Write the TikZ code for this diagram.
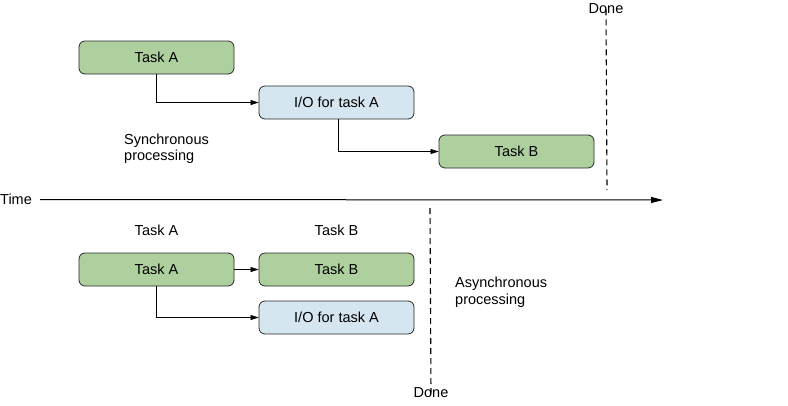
\documentclass[tikz,border=0pt]{standalone}
\usepackage{fontspec}
\setmainfont{Liberation Sans}
\usetikzlibrary{arrows.meta}
\definecolor{taskgreen}{RGB}{174,208,158}
\definecolor{ioblue}{RGB}{213,230,240}
\definecolor{edgegray}{RGB}{40,40,40}
\begin{document}
\begin{tikzpicture}[x=1pt,y=-1pt,
  font=\fontsize{14.5}{16.5}\selectfont,
  box/.style={draw=edgegray, line width=0.8pt, rounded corners=6pt, minimum width=155pt, minimum height=33pt, inner sep=0pt},
  taskbox/.style={box, fill=taskgreen},
  iobox/.style={box, fill=ioblue},
  conn/.style={draw=black, line width=0.7pt, -{Triangle[length=8pt,width=5pt]}},
  doneline/.style={draw=black, line width=1.1pt, dash pattern=on 6pt off 4pt},
  lbl/.style={inner sep=0pt}
]
\useasboundingbox (0,0) rectangle (788,405);
% synchronous
\node[taskbox] (ta1) at (156.5,57.5) {Task A};
\node[iobox] (io1) at (336.5,102.5) {I/O for task A};
\node[taskbox] (tb1) at (516.5,151.5) {Task B};
\node[lbl, align=left, anchor=west] (sync) at (124,148.5) {Synchronous\\processing};
\draw[conn] (ta1.south) |- (io1.west);
\draw[conn] ([xshift=1.5pt]io1.south) |- (tb1.west);
% time axis
\node[lbl, anchor=west] (time) at (0,199.5) {Time};
\coordinate (tend) at (663,200);
\draw[line width=1pt, -{Triangle[length=12pt,width=6pt]}] ([xshift=8pt]time.east) -- (tend);
% done lines
\node[lbl] (done1) at (606,9) {Done};
\coordinate (d1b) at (607,190);
\draw[doneline] ([yshift=5pt]done1.south) -- (d1b);
\node[lbl] (done2) at (431,393) {Done};
\coordinate (d2t) at (430,208);
\draw[doneline] (d2t) -- ([yshift=-5pt]done2.north);
% asynchronous
\node[lbl] (la) at (156.5,230.5) {Task A};
\node[lbl] (lb) at (336.5,230.5) {Task B};
\node[taskbox] (ta2) at (156.5,269.5) {Task A};
\node[taskbox] (tb2) at (336.5,269.5) {Task B};
\node[iobox] (io2) at (336.5,317.5) {I/O for task A};
\node[lbl, align=left, anchor=west] (async) at (455,292) {Asynchronous\\processing};
\draw[conn] (ta2.east) -- (tb2.west);
\draw[conn] (ta2.south) |- (io2.west);
\end{tikzpicture}
\end{document}
